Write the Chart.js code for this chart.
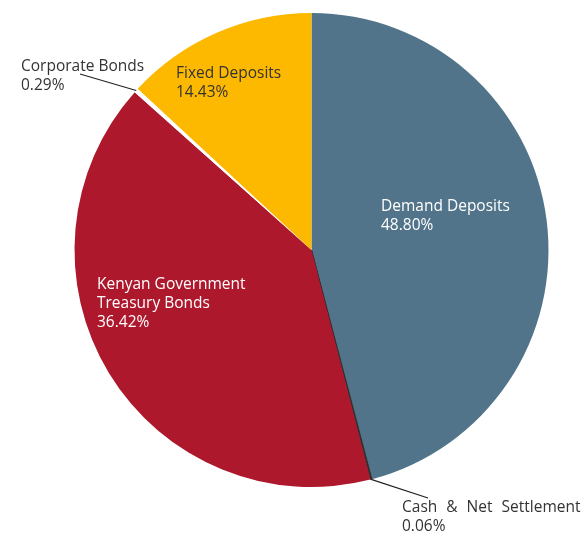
<!DOCTYPE html>
<html>
<head>
<meta charset="utf-8">
<script src="https://cdn.jsdelivr.net/npm/chart.js@4.4.1/dist/chart.umd.min.js"></script>
<style>
  html, body { margin: 0; padding: 0; background: #ffffff; }
  #wrap { width: 582px; height: 535px; }
</style>
</head>
<body>
<div id="wrap"><canvas id="c" width="582" height="535"></canvas></div>
<script>
// Categories (clockwise from 12 o'clock)
const categories = ["Demand Deposits", "Cash & Net Settlement", "Kenyan Government Treasury Bonds", "Corporate Bonds", "Fixed Deposits"];
// Slice sizes as drawn in the picture (share of the full circle, %)
const sliceShares = [45.9, 0.1, 40.6, 0.3, 13.1];
// Percent labels printed on the chart
const percentLabels = ["48.80%", "0.06%", "36.42%", "0.29%", "14.43%"];
// Label text lines
const labelLines = [
  ["Demand Deposits"],
  ["Cash & Net Settlement"],
  ["Kenyan Government", "Treasury Bonds"],
  ["Corporate Bonds"],
  ["Fixed Deposits"]
];

// Styling / layout (not data)
const sliceColors = ["#52748a", "#2b2b2b", "#ad182c", "#ffffff", "#fdb900"];
const textColors = ["#ffffff", "#333333", "#ffffff", "#333333", "#333333"];
const wordGaps = [0, 5, 0, 0, 0];
// label anchor: left x, first baseline y ; leader: end point of leader line (null = inside label)
const labelLayout = [
  { x: 381, y: 211, leader: null },
  { x: 402, y: 512, leader: { x: 428, y: 498 } },
  { x: 97,  y: 289, leader: null },
  { x: 21,  y: 71,  leader: { x: 80, y: 74 } },
  { x: 176, y: 78,  leader: null }
];
const FONT = '15.5px "Open Sans", "DejaVu Sans", sans-serif';
const LINE_H = 19;

const labelPlugin = {
  id: 'sliceLabels',
  afterDatasetsDraw(chart) {
    const ctx = chart.ctx;
    const meta = chart.getDatasetMeta(0);
    ctx.save();
    ctx.font = FONT;
    ctx.textAlign = 'left';
    ctx.textBaseline = 'alphabetic';
    meta.data.forEach((arc, i) => {
      const lay = labelLayout[i];
      if (lay.leader) {
        const mid = (arc.startAngle + arc.endAngle) / 2;
        const sx = arc.x + Math.cos(mid) * arc.outerRadius;
        const sy = arc.y + Math.sin(mid) * arc.outerRadius;
        ctx.beginPath();
        ctx.strokeStyle = '#222222';
        ctx.lineWidth = 1.2;
        ctx.moveTo(sx, sy);
        ctx.lineTo(lay.leader.x, lay.leader.y);
        ctx.stroke();
      }
      const lines = labelLines[i].concat([percentLabels[i]]);
      ctx.fillStyle = textColors[i];
      if ('wordSpacing' in ctx) ctx.wordSpacing = wordGaps[i] + 'px';
      lines.forEach((t, k) => ctx.fillText(t, lay.x, lay.y + k * LINE_H));
      if ('wordSpacing' in ctx) ctx.wordSpacing = '0px';
    });
    ctx.restore();
  }
};

new Chart(document.getElementById('c'), {
  type: 'pie',
  data: {
    labels: categories,
    datasets: [{
      data: sliceShares,
      backgroundColor: sliceColors,
      borderColor: ["#52748a", "#2b2b2b", "#ad182c", "#ffffff", "#fdb900"],
      borderWidth: [0, 1, 0, 0, 0],
      hoverOffset: 0
    }]
  },
  options: {
    responsive: false,
    animation: false,
    radius: 237,
    layout: { padding: { left: 60, right: 19, top: 10, bottom: 45 } },
    plugins: {
      legend: { display: false },
      tooltip: { enabled: false },
      title: { display: false }
    }
  },
  plugins: [labelPlugin]
});
</script>
</body>
</html>
